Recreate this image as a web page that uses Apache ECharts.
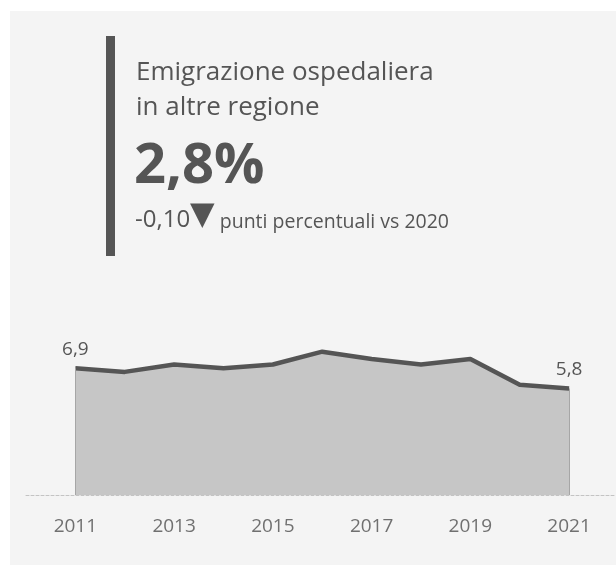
<!DOCTYPE html>
<html>
<head>
<meta charset="utf-8">
<script src="https://cdn.jsdelivr.net/npm/echarts@6/dist/echarts.min.js"></script>
<style>
  html, body { margin: 0; padding: 0; background: #ffffff; }
  #chart { width: 616px; height: 565px; }
</style>
</head>
<body>
<div id="chart"></div>
<script>
// Annual values, 2011-2021
const years = [2011, 2012, 2013, 2014, 2015, 2016, 2017, 2018, 2019, 2020, 2021];
const values = [6.9, 6.7, 7.1, 6.9, 7.1, 7.8, 7.4, 7.1, 7.4, 6.0, 5.8];
const tickYears = [2011, 2013, 2015, 2017, 2019, 2021];

// Headline block
const titleLines = ['Emigrazione ospedaliera', 'in altre regione'];
const headlineValue = '2,8%';
const deltaValue = '-0,10';
const deltaNote = 'punti percentuali vs 2020';

const FONT = '"Open Sans", "Noto Sans", sans-serif';
const TEXT = '#555555';

const fmt = v => v.toFixed(1).replace('.', ',');
const lastIdx = values.length - 1;

const chart = echarts.init(document.getElementById('chart'), null, { renderer: 'canvas' });

chart.setOption({
  animation: false,
  backgroundColor: '#ffffff',
  graphic: [
    { type: 'rect', z: -10, shape: { x: 10, y: 11, width: 606, height: 554 }, style: { fill: '#f4f4f4' } },
    { type: 'rect', shape: { x: 106, y: 36, width: 9, height: 220 }, style: { fill: '#555555' } },
    { type: 'text', left: 136, top: 55, style: { text: titleLines.join('\n'), font: '400 26px ' + FONT, fill: TEXT, lineHeight: 35 } },
    { type: 'text', left: 134, top: 139, style: { text: headlineValue, font: '700 56px ' + FONT, fill: TEXT } },
    {
      type: 'text', left: 135, top: 200,
      style: {
        text: '{a|' + deltaValue + '}{b|▼}{c| ' + deltaNote + '}',
        rich: {
          a: { font: '400 24px ' + FONT, fill: TEXT, verticalAlign: 'bottom' },
          b: { font: '400 32px "DejaVu Sans", sans-serif', fill: TEXT, verticalAlign: 'bottom' },
          c: { font: '400 19.5px ' + FONT, fill: TEXT, verticalAlign: 'bottom' }
        }
      }
    }
  ],
  grid: { left: 26, right: 0, top: 348, bottom: 70, containLabel: false },
  xAxis: {
    type: 'value',
    min: 2010,
    max: 2021.95,
    interval: 1,
    z: 5,
    splitLine: { show: false },
    axisTick: { show: false },
    axisLine: { show: true, lineStyle: { color: 'rgba(0,0,0,0.2)', width: 1, type: [3, 2] } },
    axisLabel: {
      show: true,
      margin: 22,
      color: '#707070',
      fontFamily: FONT,
      fontSize: 19,
      showMaxLabel: false,
      formatter: v => (tickYears.indexOf(v) >= 0 ? String(v) : '')
    }
  },
  yAxis: {
    type: 'value',
    min: 0,
    max: 8,
    show: false,
    splitLine: { show: false }
  },
  series: [
    {
      type: 'line',
      data: years.map((y, i) => [y, values[i]]),
      symbol: 'circle',
      symbolSize: 1,
      showSymbol: true,
      itemStyle: { color: 'rgba(0,0,0,0)' },
      lineStyle: { color: '#555555', width: 4.5, join: 'round' },
      areaStyle: { color: '#c6c6c6', opacity: 1 },
      label: {
        show: true,
        position: 'top',
        distance: 9,
        color: TEXT,
        fontFamily: FONT,
        fontSize: 19,
        formatter: p => (p.dataIndex === 0 || p.dataIndex === lastIdx ? fmt(p.value[1]) : '')
      },
      markLine: {
        silent: true,
        symbol: 'none',
        label: { show: false },
        lineStyle: { color: '#a6a6a6', width: 1, type: 'solid' },
        data: [
          [{ coord: [years[0], 0] }, { coord: [years[0], values[0]] }],
          [{ coord: [years[lastIdx], 0] }, { coord: [years[lastIdx], values[lastIdx]] }]
        ]
      },
      z: 2
    }
  ]
});
</script>
</body>
</html>
